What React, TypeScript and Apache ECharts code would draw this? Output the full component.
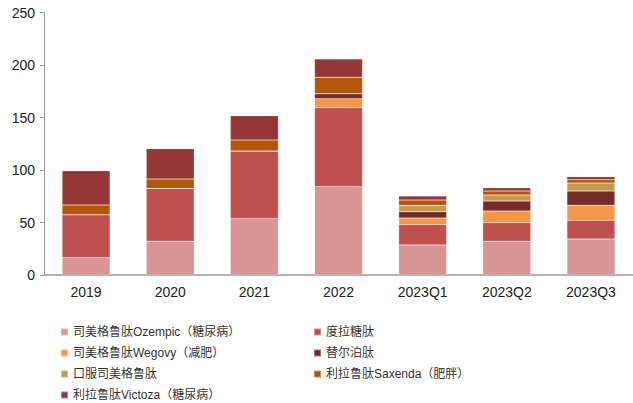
import React, { useEffect, useRef } from "react";
import * as echarts from "echarts";

const categories = ["2019", "2020", "2021", "2022", "2023Q1", "2023Q2", "2023Q3"];
const seriesNames = [
  "司美格鲁肽Ozempic（糖尿病）",
  "度拉糖肽",
  "司美格鲁肽Wegovy（减肥）",
  "替尔泊肽",
  "口服司美格鲁肽",
  "利拉鲁肽Saxenda（肥胖）",
  "利拉鲁肽Victoza（糖尿病）",
];
const ozempic = [16.5, 32.1, 53.7, 84.2, 28.6, 32.1, 34.3];
const dulaglutide = [41.0, 50.5, 64.5, 75.3, 19.4, 17.8, 17.8];
const wegovy = [0, 0, 0, 8.6, 6.3, 11.1, 14.3];
const tirzepatide = [0, 0, 0, 4.7, 6.0, 9.5, 13.7];
const rybelsus = [0, 0, 0, 0, 6.1, 5.8, 7.6];
const saxenda = [9.2, 8.9, 10.5, 15.7, 5.1, 3.8, 3.1];
const victoza = [32.7, 28.9, 23.2, 17.4, 3.8, 3.1, 2.9];
const yTicks = { min: 0, max: 250, interval: 50 };

const colors = ["#D99594", "#C0504D", "#F79646", "#772C2A", "#C49A4C", "#B45508", "#953735"];

export default function App() {
  const ref = useRef<HTMLDivElement>(null);
  useEffect(() => {
    if (!ref.current) return;
    const chart = echarts.init(ref.current, null, { renderer: "svg" });
    const data = [ozempic, dulaglutide, wegovy, tirzepatide, rybelsus, saxenda, victoza];
    const textStyle = {
      fontSize: 12,
      color: "#333",
      fontFamily: "Liberation Sans, Noto Sans CJK SC, sans-serif",
      lineHeight: 14,
    };
    // legend slots: [series index, column, row]
    const slots: [number, number, number][] = [
      [0, 0, 0],
      [1, 1, 0],
      [2, 0, 1],
      [3, 1, 1],
      [4, 0, 2],
      [5, 1, 2],
      [6, 0, 3],
    ];
    const legends = slots.map(([si, col, row]) => ({
      orient: "horizontal",
      left: col === 0 ? 60 : 313,
      top: 325 + row * 21,
      padding: 0,
      itemWidth: 7,
      itemHeight: 7,
      icon: "rect",
      textStyle,
      data: [seriesNames[si]],
    }));
    chart.setOption({
      animation: false,
      color: colors,
      grid: { left: 44, right: 0, top: 12.7, bottom: 128 },
      xAxis: {
        type: "category",
        data: categories,
        axisLine: { lineStyle: { color: "#999", width: 1.5 } },
        axisTick: { show: false },
        axisLabel: {
          fontSize: 14,
          color: "#222",
          margin: 10,
          fontFamily: "Liberation Sans, Arial, sans-serif",
        },
      },
      yAxis: {
        type: "value",
        min: yTicks.min,
        max: yTicks.max,
        interval: yTicks.interval,
        splitLine: { show: false },
        axisLine: { show: true, lineStyle: { color: "#999", width: 1 } },
        axisTick: { show: true, length: 4, lineStyle: { color: "#999" } },
        axisLabel: {
          fontSize: 14,
          color: "#222",
          margin: 9,
          fontFamily: "Liberation Sans, Arial, sans-serif",
        },
      },
      legend: legends,
      series: seriesNames.map((name, i) => ({
        name,
        type: "bar",
        stack: "total",
        barWidth: "57%",
        data: data[i],
        itemStyle: { color: colors[i], borderColor: "rgba(255,255,255,0.35)", borderWidth: 0.5 },
      })),
    });
    return () => chart.dispose();
  }, []);
  return (
    <div
      ref={ref}
      style={{ position: "fixed", left: 0, top: 0, width: 633, height: 403, background: "#fff" }}
    />
  );
}
